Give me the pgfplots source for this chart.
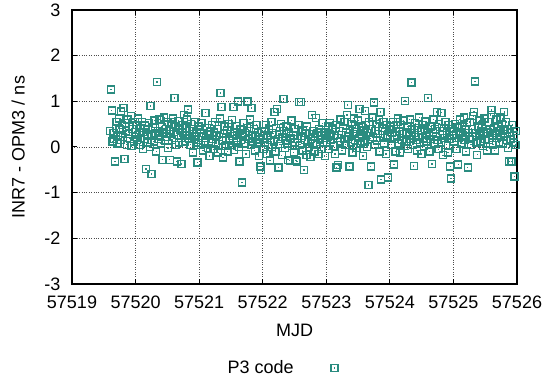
\documentclass[border=0pt]{standalone}
\usepackage{fontspec}
\setmainfont{Liberation Sans}
\usepackage{pgfplots}
\usepackage{pgfplotstable}
\pgfplotsset{compat=1.18}
\usetikzlibrary{calc}
\definecolor{ptc}{RGB}{42,140,128}
\pgfdeclareplotmark{sqdot}{%
  \pgfpathrectangle{\pgfqpoint{-\pgfplotmarksize}{-\pgfplotmarksize}}{\pgfqpoint{2\pgfplotmarksize}{2\pgfplotmarksize}}%
  \pgfusepathqstroke
  \pgfpathrectangle{\pgfqpoint{-0.7pt}{-0.7pt}}{\pgfqpoint{1.4pt}{1.4pt}}%
  \pgfusepathqfill}
\pgfplotstableread{
x y
57519.6000 0.35
57519.6125 1.26
57519.6250 0.80
57519.6375 0.12
57519.6500 0.30
57519.6625 0.18
57519.6750 -0.32
57519.6875 0.42
57519.7000 0.55
57519.7125 0.08
57519.7250 0.25
57519.7375 0.62
57519.7500 0.38
57519.7625 0.15
57519.7750 0.78
57519.7875 0.48
57519.8000 0.22
57519.8125 0.85
57519.8250 -0.26
57519.8375 0.52
57519.8500 0.35
57519.8625 0.05
57519.8750 0.60
57519.8875 0.28
57519.9000 0.45
57519.9125 0.18
57519.9250 0.68
57519.9375 0.02
57519.9500 0.40
57519.9625 0.55
57519.9750 0.12
57519.9875 0.33
57520.0000 0.22
57520.0125 0.48
57520.0250 0.15
57520.0375 0.62
57520.0500 0.30
57520.0625 0.05
57520.0750 0.41
57520.0875 0.20
57520.1000 0.55
57520.1125 -0.05
57520.1250 0.33
57520.1375 0.18
57520.1500 0.47
57520.1625 -0.48
57520.1750 0.27
57520.1875 0.10
57520.2000 0.38
57520.2125 0.52
57520.2250 0.00
57520.2375 0.90
57520.2500 -0.59
57520.2625 0.24
57520.2750 0.43
57520.2875 0.12
57520.3000 0.58
57520.3125 0.30
57520.3250 -0.10
57520.3375 1.42
57520.3500 0.35
57520.3625 0.17
57520.3750 0.60
57520.3875 0.25
57520.4000 0.08
57520.4125 0.44
57520.4250 -0.28
57520.4375 0.32
57520.4500 0.65
57520.4625 0.14
57520.4750 0.40
57520.4875 0.22
57520.5000 0.55
57520.5125 -0.02
57520.5250 0.36
57520.5375 -0.28
57520.5500 0.28
57520.5625 0.50
57520.5750 0.15
57520.5875 0.62
57520.6000 0.33
57520.6125 1.07
57520.6250 0.05
57520.6375 0.45
57520.6500 -0.32
57520.6625 0.26
57520.6750 0.57
57520.6875 0.10
57520.7000 0.38
57520.7125 0.20
57520.7250 -0.37
57520.7375 0.48
57520.7500 0.30
57520.7625 0.70
57520.7750 0.12
57520.7875 0.42
57520.8000 0.25
57520.8125 0.60
57520.8250 0.82
57520.8375 0.18
57520.8500 0.35
57520.8625 0.05
57520.8750 0.50
57520.8875 0.28
57520.9000 -0.12
57520.9125 0.40
57520.9250 0.22
57520.9375 0.55
57520.9500 0.10
57520.9625 0.32
57520.9750 -0.34
57520.9875 0.45
57521.0000 0.15
57521.0125 0.38
57521.0250 0.05
57521.0375 0.52
57521.0500 0.24
57521.0625 -0.08
57521.0750 0.30
57521.0875 0.12
57521.1000 0.75
57521.1125 0.20
57521.1250 0.42
57521.1375 -0.02
57521.1500 0.28
57521.1625 -0.20
57521.1750 0.35
57521.1875 0.10
57521.2000 0.48
57521.2125 0.18
57521.2250 -0.05
57521.2375 0.32
57521.2500 0.55
57521.2625 0.08
57521.2750 0.26
57521.2875 0.40
57521.3000 -0.12
57521.3125 0.22
57521.3250 0.62
57521.3375 1.18
57521.3500 0.87
57521.3625 0.14
57521.3750 -0.23
57521.3875 0.30
57521.4000 0.45
57521.4125 0.02
57521.4250 0.20
57521.4375 0.36
57521.4500 -0.10
57521.4625 0.50
57521.4750 0.16
57521.4875 0.28
57521.5000 0.05
57521.5125 0.59
57521.5250 0.24
57521.5375 0.87
57521.5500 -0.06
57521.5625 0.33
57521.5750 0.12
57521.5875 0.46
57521.6000 0.20
57521.6125 1.00
57521.6250 0.00
57521.6375 -0.32
57521.6500 0.38
57521.6625 0.15
57521.6750 -0.78
57521.6875 0.27
57521.7000 0.52
57521.7125 0.08
57521.7250 0.30
57521.7375 -0.15
57521.7500 0.42
57521.7625 1.00
57521.7750 0.18
57521.7875 0.35
57521.8000 0.60
57521.8125 0.04
57521.8250 0.85
57521.8375 0.25
57521.8500 0.12
57521.8625 0.40
57521.8750 -0.08
57521.8875 0.22
57521.9000 0.48
57521.9125 0.10
57521.9250 0.30
57521.9375 -0.20
57521.9500 0.16
57521.9625 -0.43
57521.9750 -0.50
57521.9875 0.35
57522.0000 0.20
57522.0125 -0.05
57522.0250 0.35
57522.0375 0.10
57522.0500 0.48
57522.0625 -0.15
57522.0750 0.25
57522.0875 0.05
57522.1000 0.38
57522.1125 -0.30
57522.1250 0.15
57522.1375 0.55
57522.1500 0.00
57522.1625 0.30
57522.1750 0.12
57522.1875 0.77
57522.2000 -0.10
57522.2125 0.42
57522.2250 0.83
57522.2375 0.18
57522.2500 -0.45
57522.2625 0.28
57522.2750 0.06
57522.2875 0.50
57522.3000 -0.18
57522.3125 0.22
57522.3250 1.05
57522.3375 0.35
57522.3500 -0.02
57522.3625 0.14
57522.3750 0.45
57522.3875 0.08
57522.4000 -0.28
57522.4125 0.32
57522.4250 -0.30
57522.4375 0.20
57522.4500 0.58
57522.4625 0.02
57522.4750 0.26
57522.4875 -0.12
57522.5000 0.40
57522.5125 0.10
57522.5250 -0.30
57522.5375 -0.32
57522.5500 0.18
57522.5625 0.48
57522.5750 0.98
57522.5875 0.05
57522.6000 0.99
57522.6125 0.24
57522.6250 -0.08
57522.6375 0.36
57522.6500 -0.50
57522.6625 0.15
57522.6750 0.30
57522.6875 -0.18
57522.7000 0.45
57522.7125 0.12
57522.7250 0.00
57522.7375 0.28
57522.7500 -0.22
57522.7625 0.18
57522.7750 0.70
57522.7875 0.08
57522.8000 0.35
57522.8125 -0.10
57522.8250 0.22
57522.8375 0.63
57522.8500 0.04
57522.8625 0.30
57522.8750 -0.15
57522.8875 0.40
57522.9000 0.16
57522.9125 -0.05
57522.9250 0.25
57522.9375 0.52
57522.9500 0.10
57522.9625 0.32
57522.9750 -0.20
57522.9875 0.20
57523.0000 0.30
57523.0125 0.10
57523.0250 0.45
57523.0375 -0.05
57523.0500 0.28
57523.0625 0.52
57523.0750 0.15
57523.0875 0.38
57523.1000 0.41
57523.1125 0.02
57523.1250 0.25
57523.1375 -0.15
57523.1500 0.48
57523.1625 -0.45
57523.1750 0.20
57523.1875 -0.40
57523.2000 0.35
57523.2125 0.12
57523.2250 0.60
57523.2375 0.26
57523.2500 -0.08
57523.2625 0.42
57523.2750 0.18
57523.2875 0.55
57523.3000 0.05
57523.3125 0.32
57523.3250 0.70
57523.3375 0.92
57523.3500 0.22
57523.3625 -0.43
57523.3750 0.38
57523.3875 0.10
57523.4000 0.50
57523.4125 -0.12
57523.4250 0.28
57523.4375 0.62
57523.4500 0.15
57523.4625 0.40
57523.4750 -0.02
57523.4875 0.33
57523.5000 0.58
57523.5125 0.20
57523.5250 0.83
57523.5375 0.08
57523.5500 0.45
57523.5625 0.25
57523.5750 -0.20
57523.5875 0.36
57523.6000 0.12
57523.6125 0.79
57523.6250 0.48
57523.6375 0.00
57523.6500 0.30
57523.6625 -0.83
57523.6750 0.55
57523.6875 0.18
57523.7000 -0.43
57523.7125 0.40
57523.7250 0.65
57523.7375 0.22
57523.7500 0.97
57523.7625 0.05
57523.7750 0.35
57523.7875 0.50
57523.8000 0.14
57523.8125 0.28
57523.8250 0.60
57523.8375 -0.10
57523.8500 0.77
57523.8625 -0.71
57523.8750 0.42
57523.8875 0.20
57523.9000 0.55
57523.9125 0.08
57523.9250 0.35
57523.9375 -0.15
57523.9500 0.48
57523.9625 0.25
57523.9750 -0.67
57523.9875 0.38
57524.0000 0.22
57524.0125 0.45
57524.0250 0.05
57524.0375 0.30
57524.0500 0.55
57524.0625 -0.38
57524.0750 0.18
57524.0875 -0.10
57524.1000 0.40
57524.1125 0.25
57524.1250 0.62
57524.1375 0.08
57524.1500 0.35
57524.1625 -0.12
57524.1750 0.48
57524.1875 0.15
57524.2000 0.28
57524.2125 0.58
57524.2250 0.02
57524.2375 1.01
57524.2500 0.32
57524.2625 0.12
57524.2750 0.45
57524.2875 -0.05
57524.3000 0.25
57524.3125 0.60
57524.3250 0.18
57524.3375 1.41
57524.3500 0.38
57524.3625 0.05
57524.3750 -0.42
57524.3875 0.30
57524.4000 0.52
57524.4125 0.15
57524.4250 -0.08
57524.4375 0.42
57524.4500 0.22
57524.4625 0.65
57524.4750 0.10
57524.4875 0.35
57524.5000 -0.15
57524.5125 0.48
57524.5250 0.20
57524.5375 0.02
57524.5500 0.38
57524.5625 0.56
57524.5750 0.12
57524.5875 0.30
57524.6000 1.07
57524.6125 0.25
57524.6250 -0.10
57524.6375 0.45
57524.6500 0.18
57524.6625 -0.37
57524.6750 0.32
57524.6875 0.60
57524.7000 0.08
57524.7125 0.40
57524.7250 0.22
57524.7375 0.77
57524.7500 0.15
57524.7625 -0.05
57524.7750 0.50
57524.7875 0.28
57524.8000 0.10
57524.8125 0.75
57524.8250 0.35
57524.8375 -0.18
57524.8500 0.42
57524.8625 0.20
57524.8750 0.55
57524.8875 0.05
57524.9000 0.30
57524.9125 -0.12
57524.9250 0.48
57524.9375 0.18
57524.9500 -0.43
57524.9625 -0.69
57524.9750 0.25
57524.9875 0.40
57525.0000 0.35
57525.0125 0.12
57525.0250 0.50
57525.0375 0.28
57525.0500 -0.05
57525.0625 0.42
57525.0750 -0.38
57525.0875 0.20
57525.1000 0.60
57525.1125 0.32
57525.1250 0.08
57525.1375 0.45
57525.1500 0.25
57525.1625 0.65
57525.1750 0.15
57525.1875 0.38
57525.2000 -0.10
57525.2125 0.52
57525.2250 -0.45
57525.2375 0.30
57525.2500 0.18
57525.2625 0.55
57525.2750 0.05
57525.2875 0.40
57525.3000 0.22
57525.3125 0.68
57525.3250 0.77
57525.3375 1.43
57525.3500 0.30
57525.3625 0.10
57525.3750 -0.17
57525.3875 0.45
57525.4000 0.25
57525.4125 0.58
57525.4250 0.12
57525.4375 0.35
57525.4500 0.48
57525.4625 0.02
57525.4750 0.28
57525.4875 0.62
57525.5000 0.18
57525.5125 0.40
57525.5250 -0.08
57525.5375 0.32
57525.5500 0.55
57525.5625 0.15
57525.5750 0.38
57525.5875 0.70
57525.6000 0.81
57525.6125 0.25
57525.6250 0.05
57525.6375 0.42
57525.6500 -0.08
57525.6625 0.30
57525.6750 0.60
57525.6875 0.20
57525.7000 0.45
57525.7125 0.10
57525.7250 0.35
57525.7375 0.65
57525.7500 0.22
57525.7625 0.50
57525.7750 0.08
57525.7875 0.38
57525.8000 0.77
57525.8125 0.28
57525.8250 0.55
57525.8375 0.15
57525.8500 0.40
57525.8625 -0.02
57525.8750 -0.32
57525.8875 0.30
57525.9000 0.18
57525.9125 -0.32
57525.9250 0.48
57525.9375 0.10
57525.9500 0.25
57525.9625 -0.65
57525.9750 0.05
57525.9875 0.35
}\datatab
\begin{document}
\begin{tikzpicture}[font=\fontsize{18}{21}\selectfont]
\begin{axis}[
  scale only axis,
  width=445pt, height=274pt,
  xmin=57519, xmax=57526, ymin=-3, ymax=3,
  xtick={57519,57520,57521,57522,57523,57524,57525,57526},
  xticklabels={57519,57520,57521,57522,57523,57524,57525,57526},
  ytick={-3,-2,-1,0,1,2,3},
  yticklabels={-3,-2,-1,0,1,2,3},
  scaled x ticks=false,
  grid=major,
  major grid style={dotted, black!70, line width=0.9pt},
  tick align=inside,
  major tick length=5pt,
  tick style={black, line width=1pt},
  axis line style={black, line width=1.3pt},
  xticklabel style={yshift=-8pt},
  yticklabel style={xshift=-8pt},
  xlabel={MJD},
  ylabel={INR7 - OPM3 / ns},
  xlabel style={at={(axis description cs:0.5,-0.168)}, anchor=center},
  ylabel style={at={(axis description cs:-0.121,0.5)}, anchor=center, rotate=0},
  legend plot pos=right,
  legend style={draw=none, fill=none, at={(axis description cs:0.345,-0.307)}, anchor=west,
    inner sep=0pt, cells={anchor=east}},
  legend image code/.code={\path (0pt,0pt); \draw[#1] plot coordinates {(38pt,0pt)};},
]
\addplot[only marks, mark=sqdot, mark size=3.5pt, ptc, line width=1.4pt] table[x=x,y=y] {\datatab};
\addlegendentry{P3 code}
\end{axis}
\pgfresetboundingbox
\path[use as bounding box] ($(current axis.south west)+(-72pt,-103pt)$) rectangle ($(current axis.north east)+(30pt,10pt)$);
\end{tikzpicture}
\end{document}
